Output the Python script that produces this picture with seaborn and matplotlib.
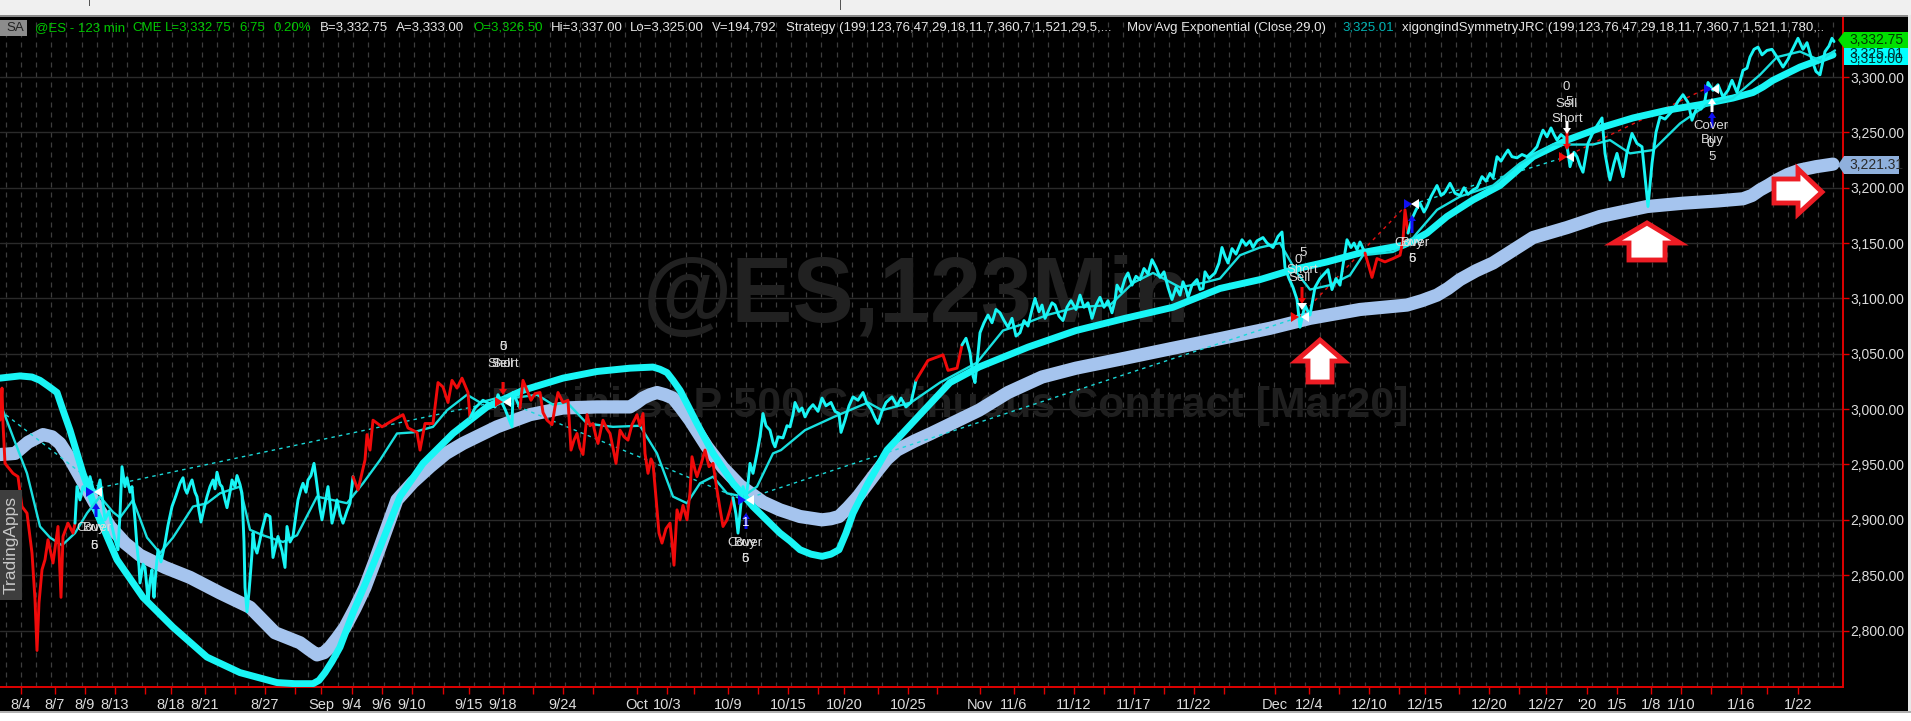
import numpy as np
import pandas as pd
import matplotlib
matplotlib.use('Agg')
import matplotlib.pyplot as plt
from matplotlib.patches import Polygon, Rectangle
import seaborn as sns

# price, split where the strategy colours the bars
red1_x = [0, 2, 3, 5, 13, 18, 22, 27, 32, 35, 37, 39, 42, 45, 48, 53, 58, 61, 63, 68, 73, 75]
red1_y = [2990, 3019, 2987, 2951, 2942, 2939, 2912, 2906, 2870, 2828, 2782, 2825, 2855, 2864, 2882, 2861, 2894, 2830, 2885, 2897, 2888, 2897]
cyan1_x = [75, 77, 80, 83, 87, 90, 93, 97, 100, 103, 105, 109, 112, 115, 118, 120, 122, 125, 127, 130, 132, 135, 137, 139, 140, 143, 145, 147, 148, 150, 152, 153, 154, 156, 158, 161, 165, 168, 172, 176, 180, 183, 185, 187, 190, 192, 195, 197, 199, 201, 204, 207, 210, 213, 215, 217, 220, 222, 225, 227, 230, 232, 235, 237, 240, 242, 244, 245, 247, 249, 250, 252, 253, 255, 257, 260, 262, 266, 270, 272, 273, 276, 278, 282, 285, 287, 290, 293, 296, 298, 301, 303, 306, 308, 311, 314, 316, 318, 320, 322, 325, 328, 330, 332, 335, 337, 340, 343, 347, 350, 353]
cyan1_y = [2897, 2930, 2918, 2930, 2925, 2939, 2928, 2924, 2936, 2915, 2900, 2908, 2894, 2882, 2873, 2905, 2948, 2930, 2938, 2925, 2930, 2900, 2876, 2858, 2843, 2860, 2857, 2838, 2825, 2845, 2855, 2840, 2830, 2855, 2873, 2862, 2879, 2895, 2912, 2922, 2933, 2938, 2928, 2924, 2932, 2936, 2925, 2921, 2908, 2898, 2910, 2921, 2930, 2936, 2928, 2943, 2932, 2930, 2918, 2911, 2925, 2936, 2930, 2940, 2932, 2924, 2880, 2839, 2817, 2835, 2846, 2870, 2888, 2875, 2870, 2882, 2891, 2905, 2903, 2880, 2866, 2878, 2885, 2872, 2857, 2894, 2880, 2885, 2905, 2918, 2928, 2933, 2925, 2936, 2940, 2951, 2938, 2924, 2910, 2900, 2915, 2930, 2915, 2897, 2908, 2918, 2905, 2897, 2908, 2915, 2939]
red2_x = [353, 358, 365, 367, 370, 373, 382, 393, 403, 408, 417, 420, 425, 433, 438, 443, 448, 452, 457, 462, 468, 470]
red2_y = [2939, 2927, 2954, 2977, 2963, 2990, 2984, 2990, 2995, 2983, 2979, 2963, 2987, 2987, 3024, 3020, 3006, 3026, 3019, 3028, 3015, 2992]
cyan2_x = [470, 475, 483, 495, 498, 505, 512, 513, 520]
cyan2_y = [2992, 3001, 3008, 3002, 3013, 3000, 2984, 3015, 3001]
red3_x = [520, 523, 527, 531, 535, 540, 543, 547, 552, 555, 558, 563, 568, 571, 574, 577, 580, 583, 587, 590, 593, 596, 598, 601, 603, 607, 610, 613, 616, 620, 624, 628, 632, 637, 640, 643, 645, 648, 651, 653, 656, 659, 662, 666, 670, 672, 674, 677, 680, 683, 687, 690, 692, 695, 697, 701, 705, 709, 713, 717, 720, 723, 727, 730, 733]
red3_y = [3001, 3026, 3017, 3008, 3014, 3015, 2997, 2990, 2986, 3002, 3015, 3006, 3008, 2963, 2972, 2978, 2965, 2959, 2995, 2985, 2987, 2975, 2969, 2982, 2990, 2982, 2978, 2965, 2951, 2981, 2975, 2972, 2986, 2995, 2985, 2996, 2960, 2942, 2955, 2951, 2920, 2888, 2879, 2892, 2897, 2880, 2859, 2909, 2900, 2913, 2900, 2925, 2957, 2945, 2939, 2950, 2963, 2948, 2951, 2927, 2910, 2894, 2900, 2909, 2920]
cyan3_x = [733, 736, 738, 741, 743, 746, 748, 750, 753, 757, 760, 763, 766, 770, 773, 775, 778, 783, 787, 790, 793, 795, 799, 802, 805, 809, 813, 818, 822, 826, 831, 835, 839, 841, 845, 849, 853, 858, 863, 867, 871, 875, 878, 882, 886, 892, 897, 901, 906, 911, 916]
cyan3_y = [2920, 2905, 2888, 2915, 2930, 2920, 2933, 2951, 2942, 2960, 2975, 2996, 2985, 2981, 2970, 2966, 2975, 2974, 2985, 2984, 2995, 3006, 2998, 3001, 2993, 3000, 3004, 2998, 3010, 3003, 3006, 2998, 2996, 2979, 2990, 3003, 3011, 3008, 3015, 3005, 3000, 2992, 2987, 2998, 3006, 3011, 3003, 3010, 3002, 3006, 3026]
red4_x = [916, 928, 943, 948, 957, 962]
red4_y = [3026, 3044, 3049, 3035, 3037, 3058]
cyan4_x = [962, 966, 970, 973, 975, 978, 980, 984, 988, 992, 996, 1000, 1004, 1008, 1012, 1016, 1020, 1024, 1028, 1032, 1035, 1039, 1042, 1045, 1049, 1052, 1055, 1059, 1063, 1067, 1071, 1076, 1080, 1084, 1088, 1092, 1096, 1100, 1104, 1108, 1112, 1115, 1117, 1121, 1125, 1128, 1132, 1136, 1140, 1144, 1148, 1152, 1156, 1160, 1164, 1168, 1172, 1176, 1180, 1183, 1186, 1188, 1192, 1197, 1200, 1203, 1205, 1209, 1215, 1219, 1222, 1225, 1228, 1232, 1236, 1242, 1246, 1250, 1253, 1257, 1263, 1267, 1273, 1278, 1282, 1285, 1289, 1293, 1297, 1300, 1303, 1305, 1308, 1310, 1315, 1320, 1324, 1328, 1332, 1336, 1340, 1343, 1347, 1351, 1354, 1357, 1360, 1365]
cyan4_y = [3058, 3064, 3051, 3030, 3024, 3050, 3069, 3078, 3085, 3078, 3090, 3087, 3080, 3074, 3082, 3066, 3069, 3080, 3075, 3090, 3100, 3088, 3094, 3082, 3090, 3096, 3094, 3084, 3080, 3092, 3098, 3090, 3103, 3092, 3096, 3082, 3094, 3101, 3092, 3098, 3087, 3098, 3112, 3106, 3118, 3123, 3112, 3120, 3117, 3127, 3122, 3135, 3128, 3119, 3124, 3110, 3099, 3110, 3103, 3115, 3108, 3101, 3112, 3117, 3108, 3109, 3124, 3118, 3123, 3132, 3146, 3138, 3132, 3145, 3140, 3153, 3148, 3152, 3146, 3152, 3155, 3150, 3146, 3156, 3160, 3128, 3118, 3110, 3099, 3074, 3086, 3094, 3088, 3085, 3110, 3118, 3122, 3126, 3108, 3118, 3112, 3130, 3153, 3146, 3150, 3144, 3151, 3141]
red5_x = [1365, 1372, 1377, 1385, 1393, 1400, 1403, 1405, 1408]
red5_y = [3141, 3119, 3136, 3133, 3136, 3139, 3153, 3180, 3159]
cyan5_x = [1408, 1412, 1416, 1420, 1424, 1427, 1431, 1437, 1441, 1445, 1450, 1455, 1460, 1464, 1468, 1473, 1477, 1482, 1486, 1490, 1493, 1497, 1501, 1505, 1508, 1512, 1517, 1522, 1527, 1532, 1537, 1540, 1543, 1547, 1551, 1554, 1557, 1561, 1565, 1568, 1570, 1574, 1577, 1580, 1583, 1588, 1592, 1597, 1602, 1605, 1608, 1610, 1614, 1617, 1620, 1623, 1627, 1632, 1637, 1642, 1648, 1652, 1656, 1660,
           1665, 1673, 1678, 1683, 1688, 1692, 1697, 1701, 1705, 1708, 1713, 1718, 1723, 1728, 1732, 1737, 1743, 1747, 1750, 1754, 1758, 1762, 1767, 1772, 1777, 1783, 1788, 1792, 1798, 1803, 1807, 1812, 1816, 1820, 1825, 1829, 1832, 1834]
cyan5_y = [3159, 3172, 3180, 3186, 3178, 3183, 3192, 3202, 3193, 3196, 3204, 3195, 3193, 3200, 3194, 3198, 3200, 3210, 3206, 3213, 3209, 3228, 3224, 3230, 3234, 3228, 3227, 3230, 3228, 3232, 3237, 3245, 3252, 3246, 3254, 3248, 3243, 3248, 3245, 3232, 3219, 3232, 3228, 3220, 3214, 3240, 3248, 3256, 3263, 3231, 3216, 3207, 3222, 3231, 3220, 3210, 3232, 3249, 3240, 3237, 3183, 3222, 3250, 3264,
           3262, 3270, 3278, 3284, 3277, 3261, 3273, 3271, 3279, 3295, 3288, 3293, 3282, 3288, 3297, 3286, 3306, 3308, 3318, 3325, 3327, 3320, 3324, 3325, 3318, 3309, 3316, 3324, 3335, 3325, 3331, 3315, 3305, 3302, 3323, 3328, 3335, 3332]

# Mov Avg Exponential (29)
ema_x = [0, 13, 27, 40, 50, 62, 75, 87, 100, 113, 120, 133, 147, 160, 173, 193, 207, 220, 240, 250, 263, 283, 297, 317, 347, 363, 380, 397, 413, 433, 447, 467, 480, 497, 513, 537, 553, 567, 587, 613, 640, 657, 673, 687, 700, 713, 727, 743, 757, 773, 781, 805, 834, 868, 882, 911, 940, 977, 1003, 1027, 1047, 1077, 1110, 1133, 1153, 1180, 1203, 1220, 1240, 1260, 1280, 1297, 1310, 1330, 1350, 1363, 1393, 1407, 1417, 1437, 1460, 1493, 1520, 1553, 1577, 1593, 1610, 1630, 1653, 1680, 1707, 1733, 1760, 1777, 1800, 1820, 1835]
ema_y = [3006, 2975, 2942, 2894, 2884, 2877, 2888, 2906, 2921, 2907, 2902, 2918, 2884, 2870, 2884, 2912, 2915, 2924, 2930, 2891, 2886, 2880, 2886, 2921, 2915, 2933, 2954, 2978, 2979, 2984, 2999, 3013, 3006, 3010, 3010, 3013, 3004, 3006, 2987, 2984, 2985, 2960, 2921, 2915, 2933, 2939, 2924, 2921, 2930, 2960, 2963, 2981, 2993, 3006, 2999, 3006, 3024, 3042, 3071, 3078, 3085, 3092, 3094, 3114, 3123, 3110, 3114, 3118, 3139, 3146, 3150, 3123, 3108, 3112, 3121, 3139, 3142, 3148, 3159, 3180, 3192, 3202, 3222, 3239, 3239, 3239, 3243, 3231, 3234, 3258, 3275, 3281, 3302, 3318, 3323, 3315, 3324]

# symmetry line, thick cyan
sym_x = [0, 20, 32, 40, 48, 57, 63, 70, 83, 97, 117, 143, 173, 207, 240, 277, 295, 313, 319, 325, 332, 340, 353, 367, 380, 400, 423, 453, 487, 523, 563, 597, 630, 653, 660, 667, 673, 680, 688, 697, 713, 733, 753, 780, 790, 800, 811, 822, 831, 839, 846, 853, 868, 887, 921, 950, 979, 1028, 1076, 1125, 1173, 1220, 1260, 1293, 1327, 1360, 1403, 1415, 1427, 1447, 1473, 1500, 1533, 1567, 1600, 1633, 1667, 1700, 1733, 1745, 1753, 1763, 1773, 1800, 1833]
sym_y = [3028, 3030, 3029, 3026, 3021, 3015, 2999, 2981, 2942, 2906, 2864, 2830, 2803, 2776, 2762, 2753, 2752, 2752, 2755, 2762, 2772, 2785, 2816, 2846, 2875, 2921, 2951, 2978, 3002, 3017, 3028, 3034, 3037, 3038, 3036, 3033, 3026, 3017, 3003, 2987, 2960, 2933, 2912, 2888, 2881, 2873, 2869, 2867, 2869, 2873, 2888, 2906, 2933, 2963, 2996, 3024, 3038, 3056, 3071, 3082, 3092, 3109, 3117, 3126, 3133, 3141, 3148, 3153, 3159, 3174, 3189, 3202, 3228, 3243, 3254, 3263, 3270, 3275, 3281, 3284, 3286, 3291, 3297, 3309, 3320]

# slow line, thick light blue
slow_x = [0, 8, 15, 28, 43, 52, 60, 70, 80, 95, 110, 125, 140, 165, 190, 220, 250, 275, 300, 309, 317, 324, 330, 337, 345, 355, 365, 375, 385, 397, 413, 430, 446, 463, 497, 530, 563, 597, 630, 637, 643, 650, 657, 665, 673, 681, 690, 707, 723, 740, 763, 780, 800, 822, 831, 839, 848, 858, 868, 878, 887, 897, 914, 931, 979, 1008, 1042, 1076, 1125, 1173, 1222, 1270, 1310, 1360, 1407, 1422, 1437, 1448, 1460, 1476, 1493, 1533, 1567, 1600, 1647, 1683, 1717, 1743, 1752, 1760, 1768, 1777, 1788, 1800, 1816, 1833]
slow_y = [2959, 2959.5, 2960, 2970, 2977, 2975, 2969, 2955, 2939, 2915, 2894, 2879, 2868, 2857, 2848, 2834, 2821, 2798, 2789, 2783, 2778, 2780, 2785, 2793, 2803, 2820, 2839, 2863, 2888, 2918, 2934, 2948, 2960, 2969, 2984, 2995, 3001, 3002, 3002, 3006, 3010, 3013, 3015, 3013, 3010, 3001, 2990, 2966, 2947, 2931, 2916, 2909, 2903, 2900, 2901, 2903, 2911, 2921, 2933, 2945, 2955, 2963, 2971, 2978, 2999, 3015, 3029, 3037, 3046, 3055, 3064, 3073, 3082, 3090, 3094, 3098, 3103, 3109, 3117, 3125, 3132, 3155, 3164, 3174, 3183, 3186, 3188, 3190, 3193, 3198, 3202, 3207, 3212, 3216, 3219, 3221.31]

# dotted lines between the trades
trade_x = [0, 100, 503, 743, 1299, 1405, 1563, 1707]
trade_y = [2999, 2929, 3008, 2918, 3083, 3183, 3227, 3290]
trade_colors = ['#19d8d8', '#19d8d8', '#19d8d8', '#19d8d8', '#e01010', '#19d8d8', '#e01010']

tick_pos = [21, 55, 85, 115, 145, 171, 205, 235, 265, 295, 321, 352, 382, 412, 443, 469, 503, 533, 563, 593, 637, 667, 694, 728, 758, 788, 818, 844, 878, 908, 937, 980, 1014, 1044, 1074, 1104, 1134, 1164, 1194, 1224, 1275, 1309, 1339, 1369, 1399, 1425, 1459, 1489, 1519, 1546, 1587, 1617, 1651, 1681, 1711, 1741, 1767, 1798]
tick_labels = ['8/4', '8/7', '8/9', '8/13', '', '8/18', '8/21', '', '8/27', '', 'Sep', '9/4', '9/6', '9/10', '', '9/15', '9/18', '', '9/24', '', 'Oct', '10/3', '', '10/9', '', '10/15', '', '10/20', '', '10/25', '', 'Nov', '11/6', '', '11/12', '', '11/17', '', '11/22', '', 'Dec', '12/4', '', '12/10', '', '12/15', '', '12/20', '', '12/27', "'20", '1/5', '1/8', '1/10', '', '1/16', '', '1/22']
price_ticks = [2800, 2850, 2900, 2950, 3000, 3050, 3100, 3150, 3200, 3250, 3300]

W, H = 1911, 721
sns.set_theme(style='dark', rc={'axes.facecolor': 'black', 'figure.facecolor': 'black'})
plt.rcParams['font.family'] = ['Liberation Sans', 'DejaVu Sans']

CYAN = '#19f5f5'
RED = '#f00a0a'
BLUE = '#a5c4ee'
LABEL = '#dcdcdc'

fig = plt.figure(figsize=(W / 100, H / 100), dpi=100)
ax = fig.add_axes([0, 1 - 687 / H, 1843 / W, 670 / H])
ax.set_xlim(0, 1843)
ax.set_ylim(2749.0, 3354.2)


def draw_line(xs, ys, color, width, **kws):
    df = pd.DataFrame({'bar': xs, 'price': ys})
    sns.lineplot(data=df, x='bar', y='price', color=color, linewidth=width, sort=False,
                 estimator=None, ax=ax, **kws)


# grid
ax.set_xticks(np.arange(6, 1843, 15.1), minor=True)
ax.grid(True, which='minor', axis='x', color='#3c3c3c', linewidth=0.9, linestyle=(0, (4, 4)))
ax.grid(True, which='major', axis='y', color='#2a2a2a', linewidth=1)
ax.grid(False, which='major', axis='x')
ax.set_axisbelow(True)

# watermark
ax.text(1190, 3100, '@ES,123Min', color='#212121', fontsize=66, fontweight='bold', ha='right', va='center', zorder=1)
ax.text(1408, 3003, 'E-mini S&P 500 Continuous Contract [Mar20]', color='#1f1f1f', fontsize=31,
        fontweight='bold', ha='right', va='center', zorder=1)

draw_line(slow_x, slow_y, BLUE, 9.5, solid_capstyle='round', zorder=2)
for i in range(len(trade_x) - 1):
    draw_line(trade_x[i:i + 2], trade_y[i:i + 2], trade_colors[i], 1, linestyle=(0, (2.5, 3)), zorder=3)
draw_line(sym_x, sym_y, CYAN, 5, solid_capstyle='round', zorder=4)
draw_line(ema_x, ema_y, '#19e0e0', 1.7, zorder=5)
segments = [(red1_x, red1_y, RED), (cyan1_x, cyan1_y, CYAN), (red2_x, red2_y, RED), (cyan2_x, cyan2_y, CYAN),
            (red3_x, red3_y, RED), (cyan3_x, cyan3_y, CYAN), (red4_x, red4_y, RED), (cyan4_x, cyan4_y, CYAN),
            (red5_x, red5_y, RED), (cyan5_x, cyan5_y, CYAN)]
for xs, ys, col in segments:
    draw_line(xs, ys, col, 2.1, zorder=6)

# axes
ax.set_xlabel('')
ax.set_ylabel('')
ax.set_xticks(tick_pos, tick_labels)
ax.yaxis.tick_right()
ax.set_yticks(price_ticks, [f'{p:,.2f}' for p in price_ticks])
ax.tick_params(axis='x', which='major', colors='#e00000', labelcolor=LABEL, length=5, width=1, labelsize=10.5, pad=3, bottom=True)
ax.tick_params(axis='x', which='minor', length=0)
ax.tick_params(axis='y', colors='#e00000', labelcolor=LABEL, length=4, width=1, labelsize=10, pad=1, right=True)
for name, sp in ax.spines.items():
    sp.set_visible(name in ('right', 'bottom'))
    sp.set_color('#e00000')
    sp.set_linewidth(1.4)


def fx(x):
    return x / W


def fy(y):
    return 1 - y / H


def rect(x0, y0, x1, y1, color, z=1):
    fig.add_artist(Rectangle((fx(x0), fy(y1)), (x1 - x0) / W, (y1 - y0) / H, transform=fig.transFigure,
                             facecolor=color, edgecolor='none', zorder=z))


def poly(points, face, edge='none', lw=0, z=2):
    pts = [(fx(x), fy(y)) for x, y in points]
    fig.add_artist(Polygon(pts, closed=True, transform=fig.transFigure, facecolor=face, edgecolor=edge,
                           linewidth=lw, joinstyle='miter', zorder=z))


def label(x, y, s, color=LABEL, size=9.5, ha='center', **kws):
    fig.text(fx(x), fy(y), s, color=color, fontsize=size, ha=ha, va='center', **kws)


def small_arrow(x, y_tip, length, color, up=True):
    d = 1 if up else -1
    poly([(x, y_tip), (x + 4, y_tip + 6 * d), (x + 1.5, y_tip + 6 * d), (x + 1.5, y_tip + length * d),
          (x - 1.5, y_tip + length * d), (x - 1.5, y_tip + 6 * d), (x - 4, y_tip + 6 * d)], color, z=2.5)


def flags(x_left, x_right, y, left_color):
    poly([(x_left - 4, y - 5), (x_left + 4, y), (x_left - 4, y + 5)], left_color, z=2.5)
    poly([(x_right + 4, y - 5), (x_right - 4, y), (x_right + 4, y + 5)], 'white', z=2.5)


# window chrome
rect(0, 0, W, 15, '#f0f0f0')
rect(0, 15, W, 17, '#8a8a8a')
rect(0, 711, W, 713, '#b0b0b0')
rect(0, 713, W, H, '#ffffff')
rect(1908, 15, W, 711, '#e8e8e8')
rect(88.5, 0, 89.5, 6, '#555555')
rect(839.5, 0, 840.5, 10, '#555555')
rect(0, 20, 27, 36, '#8c8c8c')
rect(0, 490, 22, 600, '#3e3e3e')
fig.text(fx(11), fy(545), 'TradingApps', color='#c8c8c8', fontsize=12.5, rotation=90, ha='center', va='center')

# header
GREEN = '#00c800'
HEAD = '#e6e6e6'
header = [(6, 'SA', '#222222'), (35, '@ES - 123 min', GREEN), (132, 'CME', GREEN), (165, 'L=3,332.75', GREEN),
          (239, '6.75', GREEN), (274, '0.20%', GREEN), (320, 'B=3,332.75', HEAD), (396, 'A=3,333.00', HEAD),
          (473, 'O=3,326.50', GREEN), (551, 'Hi=3,337.00', HEAD), (630, 'Lo=3,325.00', HEAD), (712, 'V=194,792', HEAD),
          (786, 'Strategy (199,123,76,47,29,18,11,7,360,7,1,521,29,5,...', HEAD),
          (1127, 'Mov Avg Exponential (Close,29,0)', HEAD), (1342, '3,325.01', '#00b4b4'),
          (1402, 'xigongindSymmetryJRC (199,123,76,47,29,18,11,7,360,7,1,521,1,780,..', HEAD)]
for x, s, col in header:
    label(x, 28, s, color=col, size=9.5, ha='left')

# price flags on the axis
rect(1844, 51, 1908, 65, '#00ffff', z=2)
label(1849, 59, '3,319.00', color='#003333', size=10, ha='left')
rect(1844, 46, 1908, 60, '#00ffff', z=2)
label(1849, 54, '3,325.01', color='#003333', size=10, ha='left')
poly([(1838, 40), (1844, 32), (1908, 32), (1908, 48), (1844, 48)], '#00e000', z=3.5)
label(1849, 40.5, '3,332.75', color='#003300', size=10, ha='left', zorder=4)
poly([(1838, 165), (1844, 156), (1899, 156), (1899, 174), (1844, 174)], '#8fb0dc', z=2)
label(1849, 165, '3,221.31', color='#2a2a2a', size=10, ha='left')

# strategy signals
flags(90, 98, 492, '#1010f0')
small_arrow(96, 503, 14, '#1010f0')
label(94, 528, 'Cover')
label(94, 528, 'Buy')
label(94, 546, '6')
label(94, 546, '5')

flags(499, 507, 402, RED)
small_arrow(503, 395, 13, RED, up=False)
label(503, 347, '0')
label(503, 347, '5')
label(503, 364, 'Sell')
label(503, 364, 'Short')

flags(742, 750, 500, '#1010f0')
small_arrow(746, 513, 16, '#1010f0')
label(746, 523, '1', color='white')
label(745, 543, 'Cover')
label(745, 543, 'Buy')
label(745, 559, '6')
label(745, 559, '5')

flags(1295, 1305, 317, RED)
small_arrow(1302, 304, 17, RED, up=False)
poly([(1297, 303), (1307, 303), (1302, 310)], 'white', z=2.6)
label(1298, 260, '0')
label(1303, 253, '5')
label(1302, 270, 'Short')
label(1300, 278, 'Sell')

flags(1408, 1415, 204, '#1010f0')
small_arrow(1412, 215, 18, '#1010f0')
label(1412, 243, 'Cover')
label(1412, 243, 'Buy')
label(1412, 259, '6')
label(1412, 259, '5')

flags(1563, 1570, 157, RED)
small_arrow(1567, 150, 18, RED, up=False)
small_arrow(1567, 134, 13, 'white', up=False)
label(1566, 87, '0')
label(1569, 102, '5')
label(1567, 104, 'Sell')
label(1567, 119, 'Short')

flags(1708, 1715, 89, '#1010f0')
small_arrow(1712, 98, 14, 'white')
small_arrow(1712, 112, 16, '#1010f0')
label(1711, 126, 'Cover')
label(1712, 140, 'Buy')
label(1710, 144, '0')
label(1712, 157, '5')

# hand drawn callout arrows
ARROW_RED = '#ed1c24'
poly([(1320, 340), (1296, 361), (1308, 361), (1308, 382), (1332, 382), (1332, 361), (1344, 361)], 'white', ARROW_RED, 3.5, z=3)
poly([(1647, 223), (1613, 243), (1629, 243), (1629, 260), (1665, 260), (1665, 243), (1680, 243)], 'white', ARROW_RED, 3.5, z=3)
poly([(1822, 192), (1798, 169), (1798, 179), (1774, 179), (1774, 203), (1798, 203), (1798, 214)], 'white', ARROW_RED, 3.5, z=3)

fig.savefig('out.png', dpi=100, facecolor='black')
